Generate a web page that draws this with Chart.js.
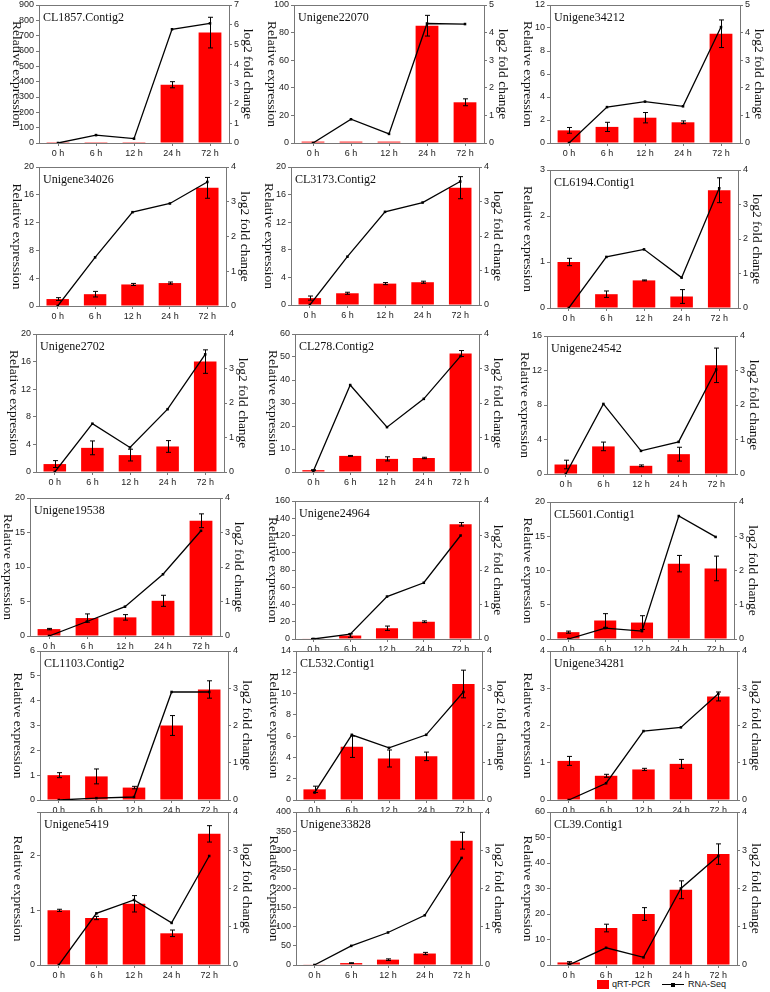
<!DOCTYPE html>
<html>
<head>
<meta charset="utf-8">
<script src="https://cdn.jsdelivr.net/npm/chart.js@4.4.0/dist/chart.umd.min.js"></script>
<style>
  body { margin: 0; background: #fff; }
  #page { position: relative; width: 770px; height: 992px; overflow: hidden; }
  canvas.panel { position: absolute; }
  .lg { position: absolute; }
  .lg-box { left: 597px; top: 980px; width: 12px; height: 9px; background: #ff0000; }
  .lg-text { top: 978px; font: 9px "Liberation Sans", Arial, sans-serif; color: #111; line-height: 12px; }
  .lg-line { left: 662px; top: 984px; width: 22px; height: 1px; background: #000; }
  .lg-dot { left: 671px; top: 982.5px; width: 4px; height: 4px; background: #000; }
</style>
</head>
<body>
<div id="page">
  <div class="lg lg-box"></div>
  <div class="lg lg-text" style="left:612px">qRT-PCR</div>
  <div class="lg lg-line"></div>
  <div class="lg lg-dot"></div>
  <div class="lg lg-text" style="left:688px">RNA-Seq</div>
</div>
<script>
// данные
const timePoints = ['0 h', '6 h', '12 h', '24 h', '72 h'];

const geneNames = [
  'CL1857.Contig2', 'Unigene22070', 'Unigene34212',
  'Unigene34026', 'CL3173.Contig2', 'CL6194.Contig1',
  'Unigene2702', 'CL278.Contig2', 'Unigene24542',
  'Unigene19538', 'Unigene24964', 'CL5601.Contig1',
  'CL1103.Contig2', 'CL532.Contig1', 'Unigene34281',
  'Unigene5419', 'Unigene33828', 'CL39.Contig1'
];

// qRT-PCR, relative expression
const qpcrMeans = [
  [1, 1, 1, 380, 720], [1, 1, 1, 85, 29.5], [1.1, 1.4, 2.2, 1.8, 9.5],
  [1.0, 1.7, 3.1, 3.3, 17], [1.0, 1.7, 3.1, 3.3, 17], [1.0, 0.3, 0.6, 0.25, 2.56],
  [1.15, 3.5, 2.45, 3.7, 16], [0.8, 7, 5.7, 6.1, 51.5], [1.1, 3.2, 0.95, 2.3, 12.6],
  [1.0, 2.6, 2.7, 5.1, 16.7], [0.5, 4, 12.5, 20, 133], [1.0, 2.7, 2.4, 11, 10.3],
  [1.0, 0.95, 0.5, 3.0, 4.45], [1.0, 5.0, 3.9, 4.1, 10.9], [1.05, 0.65, 0.82, 0.97, 2.78],
  [1.0, 0.86, 1.12, 0.58, 2.4], [1, 5, 14, 30, 325], [1, 14.5, 20, 29.5, 43.5]
];
const qpcrErrors = [
  [0, 0, 0, 20, 100], [0, 0, 0, 7.5, 2.5], [0.25, 0.4, 0.45, 0.12, 1.2],
  [0.2, 0.4, 0.15, 0.15, 1.5], [0.3, 0.15, 0.15, 0.15, 1.6], [0.08, 0.07, 0.01, 0.15, 0.27],
  [0.5, 1.0, 0.85, 0.85, 1.7], [0.2, 0.2, 0.9, 0.3, 1.3], [0.5, 0.5, 0.1, 0.8, 2.0],
  [0.1, 0.6, 0.4, 0.8, 1.0], [0.2, 2, 2.5, 1, 2], [0.15, 1.0, 1.0, 1.2, 1.8],
  [0.1, 0.3, 0.05, 0.4, 0.35], [0.3, 1.0, 0.8, 0.4, 1.3], [0.12, 0.04, 0.03, 0.12, 0.12],
  [0.02, 0.03, 0.15, 0.06, 0.15], [0, 1, 2, 3, 22], [0.3, 1.5, 2.5, 3.5, 4]
];

// RNA-Seq, log2 fold change
const rnaSeqLog2 = [
  [0, 0.4, 0.22, 5.77, 6.07], [0, 0.86, 0.33, 4.33, 4.31], [0, 1.3, 1.5, 1.33, 4.2],
  [0, 1.4, 2.7, 2.95, 3.57], [0, 1.4, 2.7, 2.97, 3.58], [0, 1.48, 1.7, 0.88, 3.47],
  [0, 1.4, 0.71, 1.82, 3.41], [0.03, 2.52, 1.3, 2.12, 3.36], [0, 2.03, 0.67, 0.93, 3.03],
  [0, 0.42, 0.85, 1.79, 3.05], [0, 0.14, 1.23, 1.63, 3.0], [0, 0.32, 0.23, 3.59, 2.98],
  [0, 0.05, 0.08, 2.9, 2.9], [0.2, 1.75, 1.4, 1.75, 2.9], [0, 0.45, 1.85, 1.95, 2.85],
  [0, 1.35, 1.7, 1.1, 2.85], [0, 0.5, 0.85, 1.3, 2.8], [0, 0.45, 0.2, 2.0, 2.85]
];

// шкалы
const leftMax  = [900, 100, 12, 20, 20, 3, 20, 60, 16, 20, 160, 20, 6, 14, 4, 2.8, 400, 60];
const leftStep = [100, 20, 2, 4, 4, 1, 4, 10, 4, 5, 20, 5, 1, 2, 1, 1, 50, 10];
const rightMax = [7, 5, 5, 4, 4, 4, 4, 4, 4, 4, 4, 4, 4, 4, 4, 4, 4, 4];

// положение области графика: left, top, right, bottom
const plotBoxes = [
  [39, 5, 229, 143], [294, 5, 484, 143], [550, 5, 740, 143],
  [39, 167, 226, 306], [291, 167, 479, 305], [550, 170, 738, 308],
  [36, 334, 224, 472], [295, 334, 479, 472], [547, 336, 735, 474],
  [30, 498, 220, 636], [295, 501, 479, 639], [550, 502, 734, 639],
  [40, 651, 228, 800], [296, 651, 482, 800], [550, 651, 737, 800],
  [40, 812, 228, 965], [296, 812, 480, 965], [550, 812, 737, 965]
];

const SIDE = 48, TOP = 8, BOTTOM = 22;
const axisColor = '#777';
const tickFont = { family: "'Liberation Sans', Arial, sans-serif", size: 9 };

// рамка, подписи осей и название гена
const decorPlugin = {
  id: 'decor',
  afterDraw(chart, args, opts) {
    const { ctx, chartArea: a } = chart;
    ctx.save();
    ctx.strokeStyle = axisColor;
    ctx.lineWidth = 1;
    ctx.beginPath();
    ctx.moveTo(a.left, Math.round(a.top) + 0.5);
    ctx.lineTo(a.right, Math.round(a.top) + 0.5);
    ctx.stroke();

    ctx.fillStyle = '#111';
    ctx.font = "12px 'Liberation Serif', 'Times New Roman', serif";
    ctx.textAlign = 'left';
    ctx.textBaseline = 'alphabetic';
    ctx.fillText(opts.gene, a.left + 4, a.top + 16);

    ctx.font = "13.5px 'Liberation Serif', 'Times New Roman', serif";
    ctx.textAlign = 'center';
    ctx.textBaseline = 'middle';
    const cy = (a.top + a.bottom) / 2;
    [[a.left - 22, 'Relative expression'], [a.right + 19, 'log2 fold change']].forEach(([x, t]) => {
      ctx.save();
      ctx.translate(x, cy);
      ctx.rotate(Math.PI / 2);
      ctx.fillText(t, 0, 0);
      ctx.restore();
    });
    ctx.restore();
  }
};

// планки погрешностей для столбцов
const errorBarPlugin = {
  id: 'errorBars',
  afterDatasetsDraw(chart, args, opts) {
    const meta = chart.getDatasetMeta(1);
    const y = chart.scales.y;
    const { ctx } = chart;
    ctx.save();
    ctx.strokeStyle = '#000';
    ctx.lineWidth = 1;
    meta.data.forEach((bar, i) => {
      const m = opts.means[i], e = opts.errors[i];
      if (!e) return;
      const x = Math.round(bar.x) + 0.5;
      const yt = y.getPixelForValue(m + e), yb = y.getPixelForValue(Math.max(m - e, 0));
      ctx.beginPath();
      ctx.moveTo(x, yt); ctx.lineTo(x, yb);
      ctx.moveTo(x - 2.5, yt); ctx.lineTo(x + 2.5, yt);
      ctx.moveTo(x - 2.5, yb); ctx.lineTo(x + 2.5, yb);
      ctx.stroke();
    });
    ctx.restore();
  }
};

const page = document.getElementById('page');

geneNames.forEach((gene, k) => {
  const [l, t, r, b] = plotBoxes[k];
  const canvas = document.createElement('canvas');
  canvas.className = 'panel';
  canvas.width = (r - l) + 2 * SIDE;
  canvas.height = (b - t) + TOP + BOTTOM;
  canvas.style.left = (l - SIDE) + 'px';
  canvas.style.top = (t - TOP) + 'px';
  page.appendChild(canvas);

  const axisBase = {
    min: 0,
    border: { display: true, color: axisColor, width: 1 },
    grid: { display: true, drawOnChartArea: false, drawTicks: true, tickLength: 3, color: axisColor },
    ticks: { font: tickFont, color: '#222', padding: 2 }
  };

  new Chart(canvas.getContext('2d'), {
    data: {
      labels: timePoints,
      datasets: [
        {
          type: 'line',
          label: 'RNA-Seq',
          data: rnaSeqLog2[k],
          yAxisID: 'y1',
          borderColor: '#000',
          borderWidth: 1.3,
          pointStyle: 'rect',
          pointRadius: 1.8,
          pointBackgroundColor: '#000',
          pointBorderWidth: 0,
          tension: 0,
          order: 0
        },
        {
          type: 'bar',
          label: 'qRT-PCR',
          data: qpcrMeans[k],
          yAxisID: 'y',
          backgroundColor: '#ff0000',
          borderWidth: 0,
          barPercentage: 0.6,
          categoryPercentage: 1,
          order: 1
        }
      ]
    },
    options: {
      responsive: false,
      animation: false,
      devicePixelRatio: 1,
      layout: { padding: { top: TOP, left: 0, right: 0, bottom: 0 } },
      plugins: {
        legend: { display: false },
        tooltip: { enabled: false },
        decor: { gene: gene },
        errorBars: { means: qpcrMeans[k], errors: qpcrErrors[k] }
      },
      scales: {
        x: {
          offset: true,
          border: { display: true, color: axisColor, width: 1 },
          grid: { display: true, drawOnChartArea: false, drawTicks: true, tickLength: 3, color: axisColor, offset: false },
          ticks: { font: tickFont, color: '#222', padding: 2, maxRotation: 0, autoSkip: false },
          afterFit(s) { s.height = BOTTOM; }
        },
        y: Object.assign({}, axisBase, {
          position: 'left',
          max: leftMax[k],
          ticks: Object.assign({}, axisBase.ticks, {
            stepSize: leftStep[k],
            // метки только на кратных шагу значениях
            callback: v => (Math.abs(v / leftStep[k] - Math.round(v / leftStep[k])) < 1e-6 ? v : '')
          }),
          afterFit(s) { s.width = SIDE; }
        }),
        y1: Object.assign({}, axisBase, {
          position: 'right',
          max: rightMax[k],
          ticks: Object.assign({}, axisBase.ticks, { stepSize: 1 }),
          afterFit(s) { s.width = SIDE; }
        })
      }
    },
    plugins: [decorPlugin, errorBarPlugin]
  });
});
</script>
</body>
</html>
